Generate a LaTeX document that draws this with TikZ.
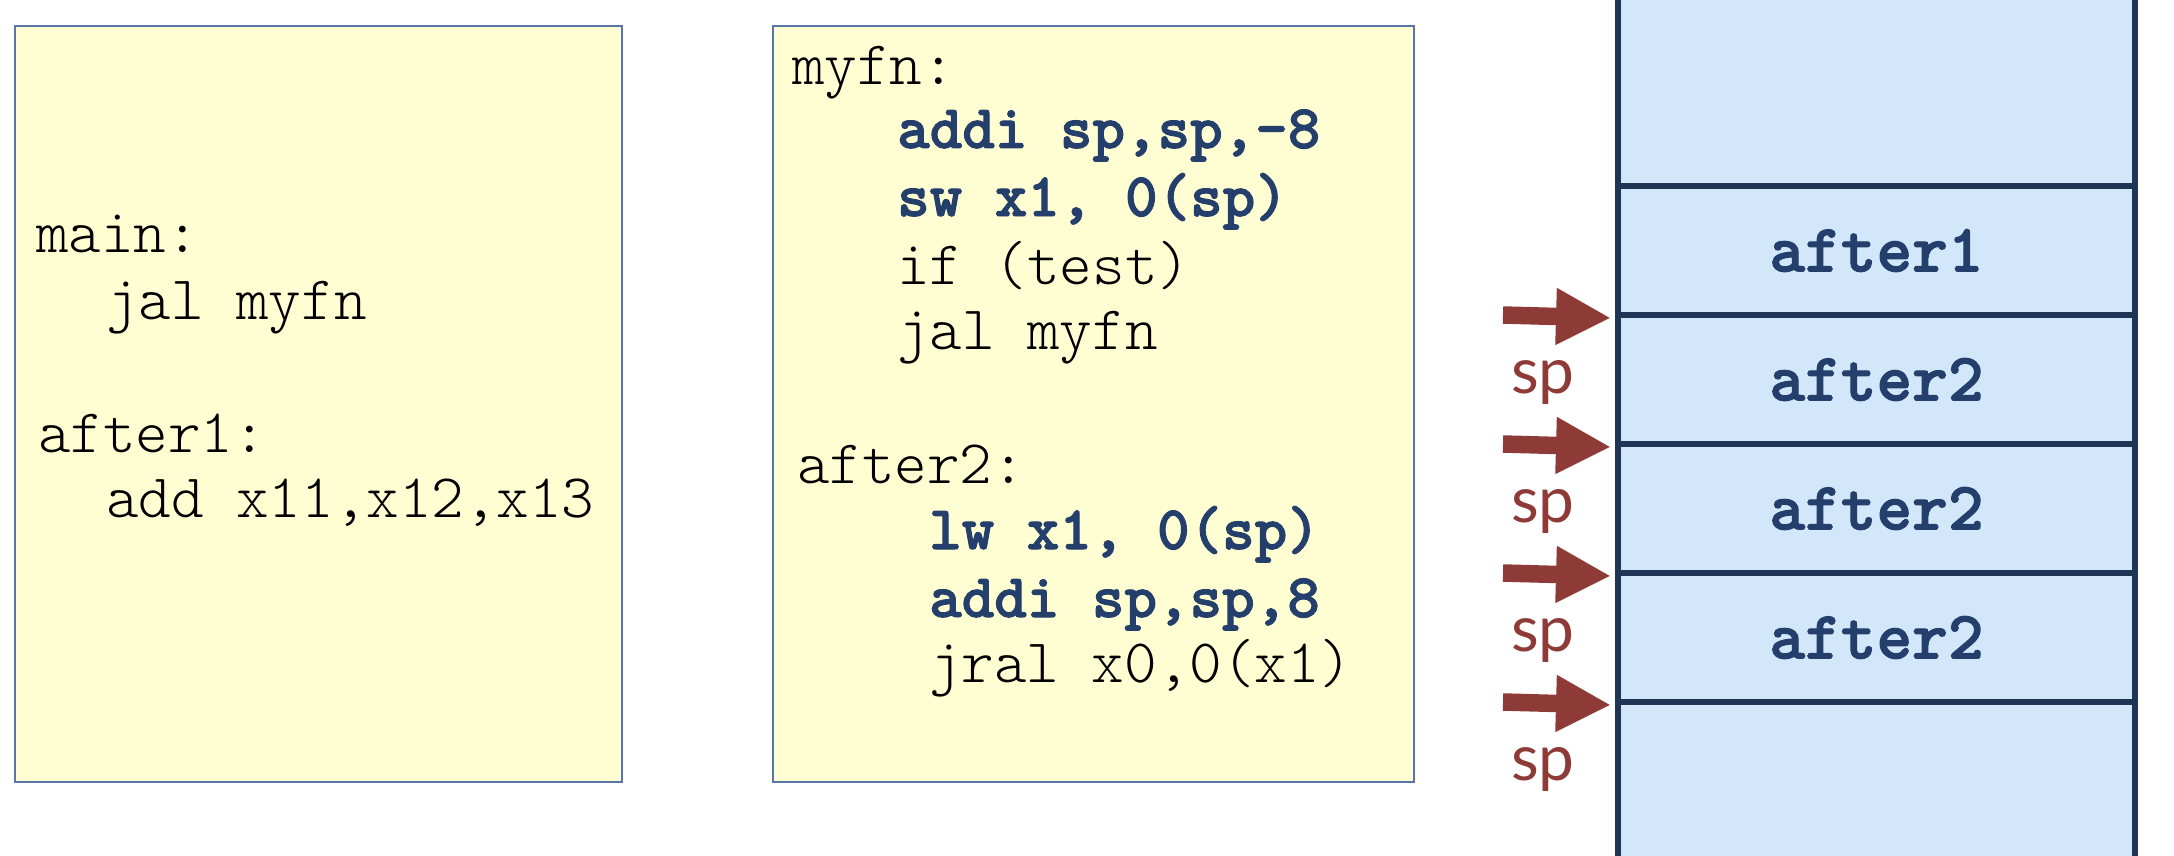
\documentclass[tikz,border=0pt]{standalone}
\usepackage{fontspec}
\newfontfamily\spfont{Lato}
\newfontfamily\codereg{lmmonolt10-regular.otf}
\newfontfamily\codebold{lmmonolt10-bold.otf}[FakeBold=1.6]
\usetikzlibrary{arrows.meta}
\definecolor{boxfill}{HTML}{FFFED3}
\definecolor{boxline}{HTML}{5A76A8}
\definecolor{navy}{HTML}{243F6B}
\definecolor{stackfill}{HTML}{D3E7FB}
\definecolor{stackline}{HTML}{1E3556}
\definecolor{spred}{HTML}{8E3B38}
\begin{document}
\begin{tikzpicture}[x=1pt,y=-1pt,
  codebox/.style={draw=boxline, line width=2pt, fill=boxfill, inner sep=0pt, anchor=north west},
  code/.style={anchor=base west, inner sep=0pt, font=\fontsize{62}{66}\selectfont\codereg, text=black},
  codebf/.style={anchor=base west, inner sep=0pt, font=\fontsize{62}{66}\selectfont\codebold, text=navy},
  cell/.style={draw=stackline, line width=6pt, fill=stackfill, minimum width=517pt, inner sep=0pt, font=\fontsize{68}{70}\selectfont\codebold, text=navy},
  sparrow/.style={draw=spred, line width=17.5pt, -{Triangle[length=55pt,width=53pt]}},
  splabel/.style={anchor=base, inner sep=0pt, text=spred, font=\fontsize{64}{66}\selectfont\spfont}
]
\useasboundingbox (0,0) rectangle (2174,856);
\clip (0,0) rectangle (2174,856);
\fill[white] (0,0) rectangle (2174,856);

% left code box
\node[codebox, minimum width=607pt, minimum height=756pt] (box1) at (14,25) {};
\node[code] (l1) at (36,252) {main:};
\node[code] (l2) at (106,319) {jal myfn};
\node[code] (l3) at (38,452) {after1:};
\node[code] (l4) at (106,517) {add x11,x12,x13};

% middle code box
\node[codebox, minimum width=641pt, minimum height=756pt] (box2) at (772,25) {};
\node[code] (m1) at (792,85) {myfn:};
\node[codebf] (m2) at (897,148) {addi sp,sp,-8};
\node[codebf] (m3) at (897,216) {sw x1, 0(sp)};
\node[code] (m4) at (897,284) {if (test)};
\node[code] (m5) at (897,349) {jal myfn};
\node[code] (m6) at (797,483) {after2:};
\node[codebf] (m7) at (929,549) {lw x1, 0(sp)};
\node[codebf] (m8) at (929,617) {addi sp,sp,8};
\node[code] (m9) at (929,682) {jral x0,0(x1)};

% stack
\node[cell, minimum height=206pt] (c0) at (1876.5,83) {};
\node[cell, minimum height=129pt] (c1) at (1876.5,250.5) {after1};
\node[cell, minimum height=129pt] (c2) at (1876.5,379.5) {after2};
\node[cell, minimum height=129pt] (c3) at (1876.5,508.5) {after2};
\node[cell, minimum height=129pt] (c4) at (1876.5,637.5) {after2};
\node[cell, minimum height=178pt] (c5) at (1876.5,791) {};

% sp arrows
\coordinate (a1) at (1503,315);
\coordinate (a2) at (1503,444);
\coordinate (a3) at (1503,573);
\coordinate (a4) at (1503,702);
\draw[sparrow] (a1) -- ([xshift=-4pt]c1.south west);
\draw[sparrow] (a2) -- ([xshift=-4pt]c2.south west);
\draw[sparrow] (a3) -- ([xshift=-4pt]c3.south west);
\draw[sparrow] (a4) -- ([xshift=-4pt]c4.south west);
\node[splabel] (sp1) at (1543,393) {sp};
\node[splabel] (sp2) at (1543,522) {sp};
\node[splabel] (sp3) at (1543,651) {sp};
\node[splabel] (sp4) at (1543,780) {sp};
\end{tikzpicture}
\end{document}
